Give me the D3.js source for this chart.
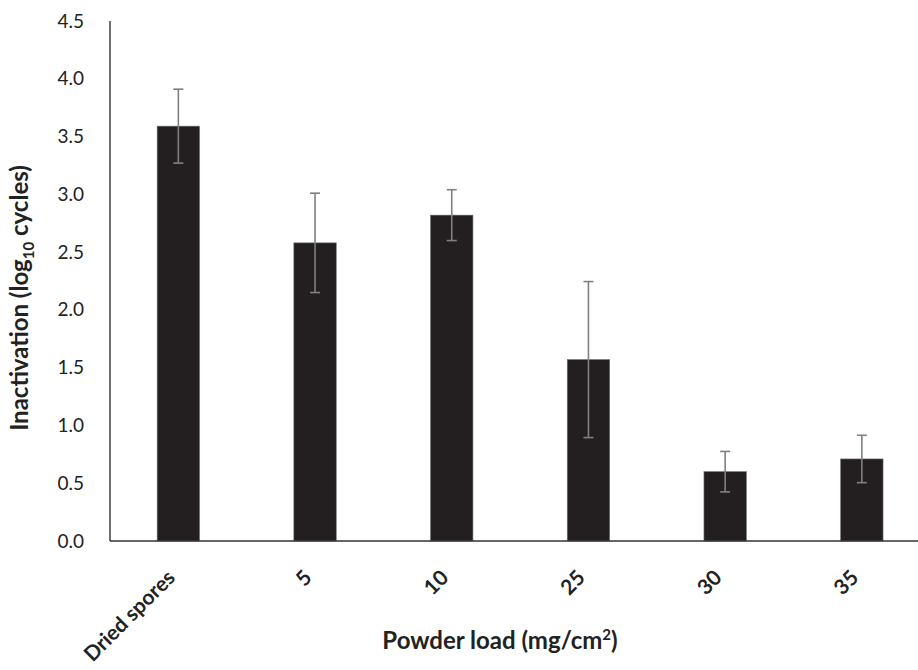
<!DOCTYPE html>
<html>
<head>
<meta charset="utf-8">
<script src="https://cdn.jsdelivr.net/npm/d3@7"></script>
<style>
  html, body { margin: 0; padding: 0; background: #fff; }
  svg { display: block; font-family: Lato, "Open Sans", sans-serif; }
</style>
</head>
<body>
<svg id="chart" width="918" height="670"></svg>
<script>
const categories = ["Dried spores", "5", "10", "25", "30", "35"];
const values = [3.59, 2.58, 2.82, 1.57, 0.60, 0.71];
const errors = [0.32, 0.43, 0.22, 0.675, 0.175, 0.205];
const yTicks = [0, 0.5, 1.0, 1.5, 2.0, 2.5, 3.0, 3.5, 4.0, 4.5];

const svg = d3.select("#chart");
const x0 = 110, xEnd = 918, y0 = 541, yTop = 21;

const x = d3.scaleBand().domain(categories).range([x0, x0 + 6 * 136.7])
  .paddingInner(0.69).paddingOuter(0.345);
const y = d3.scaleLinear().domain([0, 4.5]).range([y0, yTop]);

// bars
svg.append("g").selectAll("rect").data(categories).join("rect")
  .attr("x", d => x(d))
  .attr("y", (d, i) => y(values[i]))
  .attr("width", x.bandwidth())
  .attr("height", (d, i) => y(0) - y(values[i]))
  .attr("fill", "#231f20")
  .attr("stroke", "#6d6d6d")
  .attr("stroke-width", 0.6);

// error bars
const eg = svg.append("g").attr("stroke", "#808080").attr("stroke-width", 1.6).attr("fill", "none");
categories.forEach((c, i) => {
  const cx = x(c) + x.bandwidth() / 2;
  const hi = y(values[i] + errors[i]), lo = y(values[i] - errors[i]);
  eg.append("line").attr("x1", cx).attr("x2", cx).attr("y1", hi).attr("y2", lo);
  eg.append("line").attr("x1", cx - 5).attr("x2", cx + 5).attr("y1", hi).attr("y2", hi);
  eg.append("line").attr("x1", cx - 5).attr("x2", cx + 5).attr("y1", lo).attr("y2", lo);
});

// y axis
const yAxis = d3.axisLeft(y).tickValues(yTicks).tickFormat(d3.format(".1f")).tickSize(0).tickPadding(26);
const ga = svg.append("g").attr("transform", `translate(${x0},0)`).call(yAxis);
ga.select(".domain").remove();
ga.selectAll("text").attr("font-size", 19).attr("fill", "#222").attr("font-family", "Lato, sans-serif");

svg.append("line").attr("x1", x0).attr("x2", x0).attr("y1", yTop).attr("y2", y0)
  .attr("stroke", "#333").attr("stroke-width", 1.4);

// x axis
const xAxis = d3.axisBottom(x).tickSize(0).tickPadding(0);
const gx = svg.append("g").attr("transform", `translate(0,${y0})`).call(xAxis);
gx.select(".domain").remove();
gx.selectAll(".tick text")
  .attr("font-size", 21).attr("font-weight", "bold").attr("fill", "#222")
  .attr("font-family", "Lato, sans-serif")
  .attr("text-anchor", "end")
  .attr("dy", null)
  .attr("transform", "translate(-2,38) rotate(-45)");

svg.append("line").attr("x1", x0).attr("x2", xEnd).attr("y1", y0).attr("y2", y0)
  .attr("stroke", "#333").attr("stroke-width", 1.4);

// titles
const yt = svg.append("text")
  .attr("transform", "translate(28,298) rotate(-90)")
  .attr("text-anchor", "middle")
  .attr("font-size", 24).attr("font-weight", "bold").attr("fill", "#222");
yt.append("tspan").text("Inactivation (log");
yt.append("tspan").attr("font-size", 15).attr("dy", 6).text("10");
yt.append("tspan").attr("dy", -6).text(" cycles)");

const xt = svg.append("text")
  .attr("x", 500).attr("y", 649)
  .attr("text-anchor", "middle")
  .attr("font-size", 24).attr("font-weight", "bold").attr("fill", "#222");
xt.append("tspan").text("Powder load (mg/cm");
xt.append("tspan").attr("font-size", 15).attr("dy", -9).text("2");
xt.append("tspan").attr("dy", 9).text(")");
</script>
</body>
</html>
